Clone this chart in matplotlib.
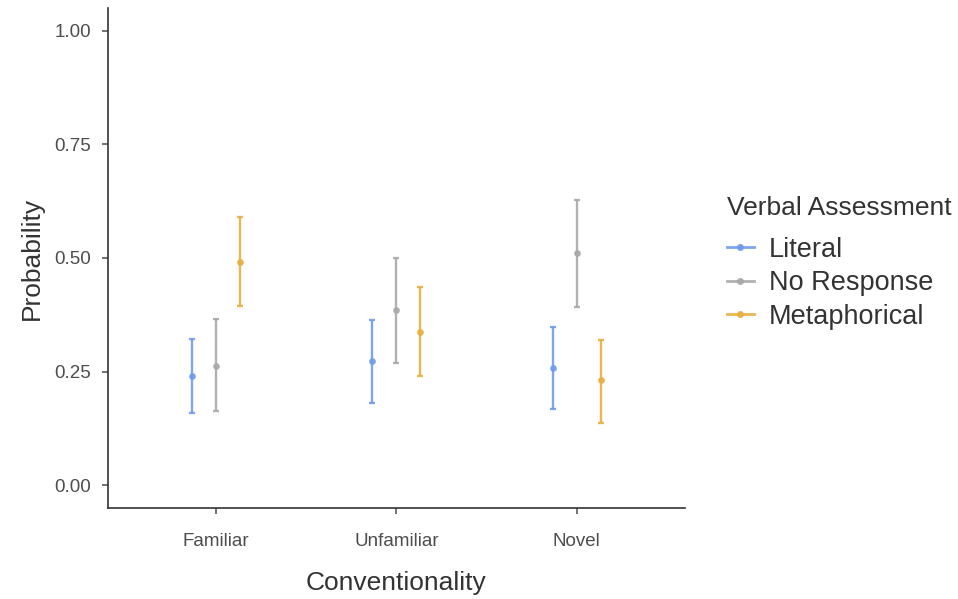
import numpy as np
import matplotlib.pyplot as plt
from matplotlib.lines import Line2D

plt.rcParams['font.family'] = ['Liberation Sans', 'DejaVu Sans']

categories = ['Familiar', 'Unfamiliar', 'Novel']
groups = ['Literal', 'No Response', 'Metaphorical']
colors = ['#6f9ceb', '#a9a9a9', '#e8ae3e']

# estimated probability, lower and upper bounds per group (Familiar, Unfamiliar, Novel)
est = {
    'Literal':      [0.241, 0.274, 0.259],
    'No Response':  [0.263, 0.386, 0.511],
    'Metaphorical': [0.491, 0.338, 0.232],
}
lower = {
    'Literal':      [0.158, 0.182, 0.167],
    'No Response':  [0.164, 0.270, 0.393],
    'Metaphorical': [0.395, 0.241, 0.138],
}
upper = {
    'Literal':      [0.322, 0.364, 0.349],
    'No Response':  [0.366, 0.500, 0.627],
    'Metaphorical': [0.590, 0.436, 0.320],
}

fig = plt.figure(figsize=(9.58, 5.99), dpi=100)
ax = fig.add_axes([0.1127, 0.152, 0.6023, 0.8346])

x = np.arange(1, len(categories) + 1)
offsets = [-0.133, 0.0, 0.133]
for g, c, off in zip(groups, colors, offsets):
    y = np.array(est[g])
    lo = y - np.array(lower[g])
    hi = np.array(upper[g]) - y
    ax.errorbar(x + off, y, yerr=[lo, hi], fmt='o', color=c, ms=3.8,
                elinewidth=1.7, capsize=2.2, capthick=1.7, alpha=0.9)

ax.set_xlim(0.4, 3.6)
ax.set_ylim(-0.05, 1.05)
ax.set_xticks(x)
ax.set_xticklabels(categories)
ax.set_yticks([0, 0.25, 0.5, 0.75, 1.0])
ax.set_yticklabels(['0.00', '0.25', '0.50', '0.75', '1.00'])
ax.tick_params(labelsize=13.5, colors='#4d4d4d', length=4, width=1.1)
ax.tick_params(axis='x', pad=14)
ax.tick_params(axis='y', pad=8)
for s in ['top', 'right']:
    ax.spines[s].set_visible(False)
for s in ['left', 'bottom']:
    ax.spines[s].set_linewidth(1.2)
    ax.spines[s].set_color('#333333')
ax.set_xlabel('Conventionality', fontsize=19, color='#333333', labelpad=15)
ax.set_ylabel('Probability', fontsize=19, color='#333333', labelpad=8)

handles = [Line2D([0], [0], color=c, lw=2, marker='o', ms=4, alpha=0.9)
           for c in colors]
leg = ax.legend(handles, groups, title='Verbal Assessment', loc='upper left',
                bbox_to_anchor=(1.03, 0.673), frameon=False, fontsize=19.5,
                title_fontsize=19, handlelength=1.0, handletextpad=0.55,
                labelspacing=0.28, alignment='left')
leg._legend_box.sep = 12
for t in leg.get_texts():
    t.set_color('#333333')
leg.get_title().set_color('#333333')

fig.savefig('out.png', dpi=100)
